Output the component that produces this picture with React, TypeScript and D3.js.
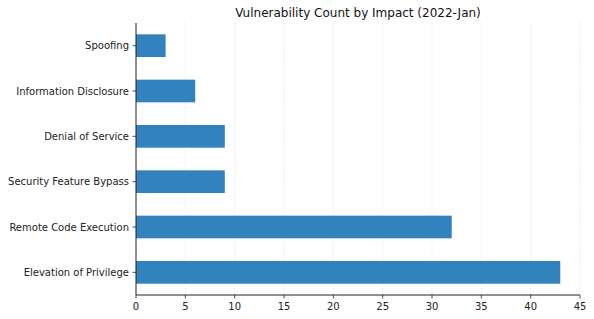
import React from "react";
import * as d3 from "d3";

const categories = ["Elevation of Privilege", "Remote Code Execution", "Security Feature Bypass", "Denial of Service", "Information Disclosure", "Spoofing"];
const counts = [43, 32, 9, 9, 6, 3];
const xTicks = [0, 5, 10, 15, 20, 25, 30, 35, 40, 45];
const title = "Vulnerability Count by Impact (2022-Jan)";

export default function App() {
  const W = 594, H = 319;
  const left = 136, right = 580, top = 23, bottom = 295;
  const x = d3.scaleLinear().domain([0, 45]).range([left, right]);
  const y = d3.scaleLinear().domain([-0.5, 5.5]).range([bottom, top]);
  const bw = (y(0) - y(1)) * 0.5;
  const font = "DejaVu Sans, sans-serif";
  return (
    <svg width={W} height={H} style={{ position: "absolute", left: 0, top: 0, background: "#fff" }} fontFamily={font}>
      {xTicks.map((t) => (
        <line key={"g" + t} x1={x(t)} x2={x(t)} y1={top} y2={bottom} stroke="#e0e0e0" strokeWidth={0.8} strokeDasharray="1,1.5" />
      ))}
      {categories.map((c, i) => (
        <rect key={c} x={x(0)} y={y(i) - bw / 2} width={x(counts[i]) - x(0)} height={bw} fill="#3182bd" />
      ))}
      <line x1={left} x2={left} y1={top} y2={bottom} stroke="#222" strokeWidth={1} />
      <line x1={left} x2={right} y1={bottom} y2={bottom} stroke="#222" strokeWidth={1} />
      {categories.map((c, i) => (
        <g key={"t" + c}>
          <line x1={left - 3.5} x2={left} y1={y(i)} y2={y(i)} stroke="#222" strokeWidth={0.8} />
          <text x={left - 7} y={y(i)} dy="0.35em" textAnchor="end" fontSize={10} fill="#222">{c}</text>
        </g>
      ))}
      {xTicks.map((t) => (
        <g key={"x" + t}>
          <line x1={x(t)} x2={x(t)} y1={bottom} y2={bottom + 3.5} stroke="#222" strokeWidth={0.8} />
          <text x={x(t)} y={bottom + 15} textAnchor="middle" fontSize={10} fill="#222">{t}</text>
        </g>
      ))}
      <text x={(left + right) / 2} y={17} textAnchor="middle" fontSize={12} fill="#111">{title}</text>
    </svg>
  );
}
